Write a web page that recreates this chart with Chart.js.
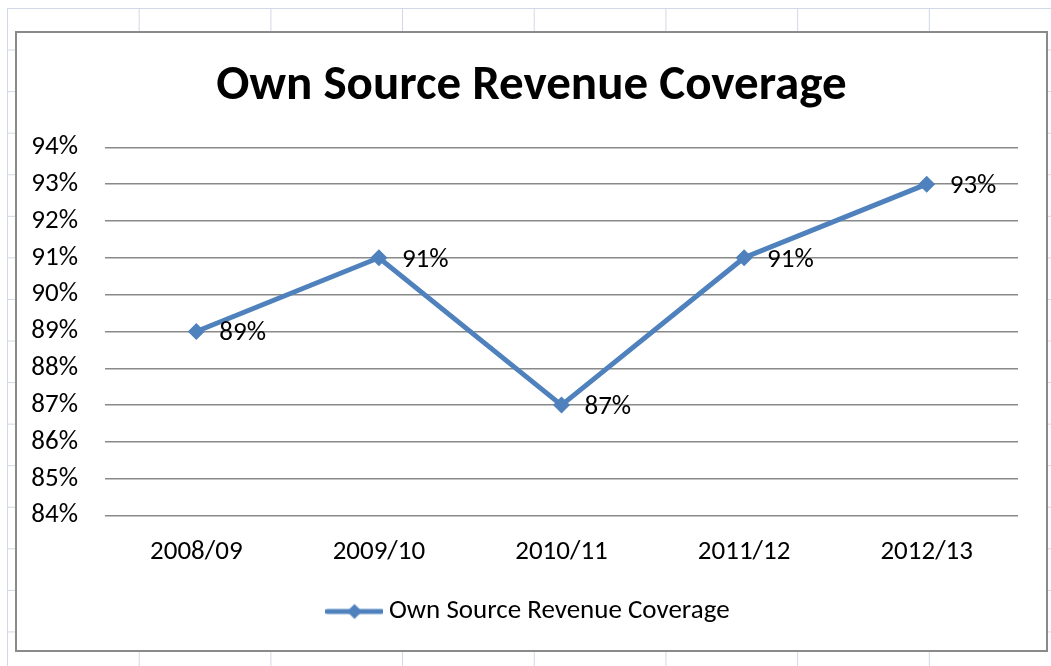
<!DOCTYPE html>
<html>
<head>
<meta charset="utf-8">
<script src="https://cdn.jsdelivr.net/npm/chart.js@4"></script>
<style>
  html, body { margin: 0; padding: 0; background: #fff; }
  body { width: 1051px; height: 666px; position: relative; overflow: hidden; }
  #sheet {
    position: absolute; left: 7px; top: 8px; right: 0; bottom: 0;
    background-image:
      linear-gradient(to right, #d0d7e5 1px, transparent 1px),
      linear-gradient(to bottom, #d0d7e5 1px, transparent 1px);
    background-size: 131.7px 41.57px;
  }
  #box {
    position: absolute; left: 15px; top: 31px; width: 1033px; height: 621px;
    box-sizing: border-box; border: 2px solid #8a8a8a; background: #fff;
  }
  #wrap { position: absolute; left: 0; top: 0; width: 1029px; height: 617px; }
</style>
</head>
<body>
<div id="sheet"></div>
<div id="box">
  <div id="wrap"><canvas id="chartCoverage"></canvas></div>
</div>
<script>
const categorias = ['2008/09', '2009/10', '2010/11', '2011/12', '2012/13'];
const coverage = [89, 91, 87, 91, 93];
const yMin = 84;
const yMax = 94;
const yStep = 1;

const FONT = 'Carlito, Lato, sans-serif';
const azul = '#4f81bd';

// legend symbol: line with a diamond in the middle
function legendSymbol() {
    const c = document.createElement('canvas');
    c.width = 58;
    c.height = 18;
    const g = c.getContext('2d');
    g.strokeStyle = azul;
    g.lineWidth = 5;
    g.lineCap = 'round';
    g.beginPath();
    g.moveTo(2, 9);
    g.lineTo(56, 9);
    g.stroke();
    g.fillStyle = azul;
    g.beginPath();
    g.moveTo(29, 1.5);
    g.lineTo(36.5, 9);
    g.lineTo(29, 16.5);
    g.lineTo(21.5, 9);
    g.closePath();
    g.fill();
    return c;
}

const valueLabels = {
    id: 'valueLabels',
    afterDatasetsDraw(chart) {
        const ctx = chart.ctx;
        ctx.save();
        ctx.font = '27px ' + FONT;
        ctx.fillStyle = '#000';
        ctx.textAlign = 'left';
        ctx.textBaseline = 'middle';
        chart.getDatasetMeta(0).data.forEach((pt, i) => {
            ctx.fillText(coverage[i] + '%', pt.x + 23, pt.y + 2);
        });
        ctx.restore();
    }
};

const ctx = document.getElementById('chartCoverage').getContext('2d');
new Chart(ctx, {
    type: 'line',
    data: {
        labels: categorias,
        datasets: [{
            label: 'Own Source Revenue Coverage',
            data: coverage,
            borderColor: azul,
            backgroundColor: azul,
            borderWidth: 5,
            pointStyle: 'rectRot',
            pointRadius: 8.5,
            pointBorderWidth: 0,
            pointBackgroundColor: azul,
            tension: 0
        }]
    },
    options: {
        responsive: true,
        maintainAspectRatio: false,
        animation: false,
        layout: { padding: { left: 0, right: 0, top: 0, bottom: 15 } },
        plugins: {
            title: {
                display: true,
                text: 'Own Source Revenue Coverage',
                color: '#000',
                font: { family: FONT, size: 49, weight: 'bold', lineHeight: 1.2 },
                padding: { top: 24, bottom: 31.5 }
            },
            legend: {
                position: 'bottom',
                labels: {
                    usePointStyle: true,
                    pointStyle: legendSymbol(),
                    pointStyleWidth: 42,
                    color: '#000',
                    font: { family: FONT, size: 27 },
                    padding: 10
                }
            },
            tooltip: { enabled: false }
        },
        scales: {
            x: {
                offset: true,
                grid: { display: false, drawTicks: false },
                border: { display: false },
                ticks: { color: '#000', font: { family: FONT, size: 27 }, padding: 20 }
            },
            y: {
                min: yMin,
                max: yMax,
                afterFit(scale) { scale.width = 88; },
                grid: { color: '#898989', lineWidth: 1.5, drawTicks: false },
                border: { display: false },
                ticks: {
                    stepSize: yStep,
                    color: '#000',
                    padding: 27,
                    font: { family: FONT, size: 27 },
                    callback: v => v + '%'
                }
            },
            // empty right-hand margin so title and legend stay centred in the box
            yRight: {
                position: 'right',
                min: yMin,
                max: yMax,
                afterFit(scale) { scale.width = 28; },
                grid: { display: false, drawTicks: false },
                border: { display: false },
                ticks: { display: false }
            }
        }
    },
    plugins: [valueLabels]
});
</script>
</body>
</html>
